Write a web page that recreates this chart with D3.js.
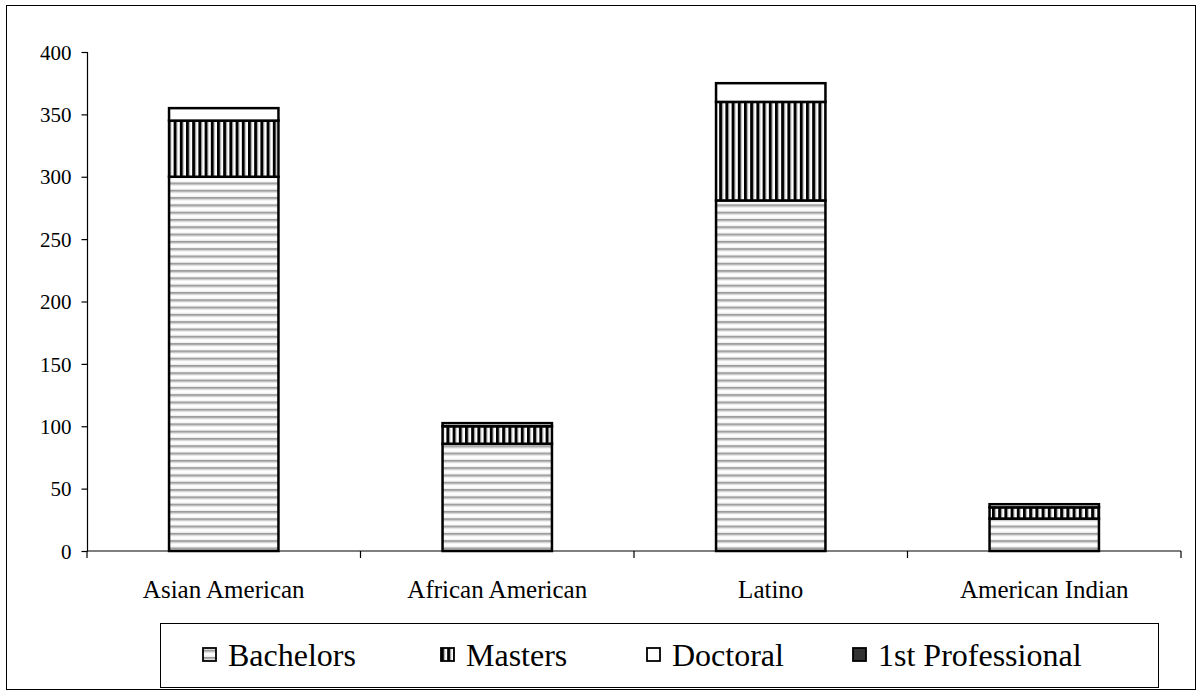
<!DOCTYPE html>
<html>
<head>
<meta charset="utf-8">
<script src="https://cdn.jsdelivr.net/npm/d3@7"></script>
</head>
<body style="margin:0;padding:0;background:#fff">
<svg id="chart" width="1202" height="696" style="display:block" font-family="Liberation Serif"></svg>
<script>
// ---- data ----
const categories = ["Asian American", "African American", "Latino", "American Indian"];
const seriesNames = ["Bachelors", "Masters", "Doctoral", "1st Professional"];
const bachelors = [300, 86, 281, 26];
const masters = [45, 14, 79, 9];
const doctoral = [10, 2.5, 15, 2.5];
const firstProfessional = [0, 0, 0, 0];
const yTicks = [0, 50, 100, 150, 200, 250, 300, 350, 400];

const FONT = "Liberation Serif";
const svg = d3.select("#chart");

// patterns
const defs = svg.append("defs");
const pB = defs.append("pattern").attr("id", "pBach").attr("patternUnits", "userSpaceOnUse")
  .attr("width", 8).attr("height", 7.3);
pB.append("rect").attr("width", 8).attr("height", 7.3).attr("fill", "#f0f0f0");
pB.append("rect").attr("y", 0).attr("width", 8).attr("height", 1.7).attr("fill", "#999999");
pB.append("rect").attr("y", 1.7).attr("width", 8).attr("height", 1).attr("fill", "#d2d2d2");
pB.append("rect").attr("y", 3.6).attr("width", 8).attr("height", 2.4).attr("fill", "#ffffff");

const pM = defs.append("pattern").attr("id", "pMast").attr("patternUnits", "userSpaceOnUse")
  .attr("width", 6.2).attr("height", 10);
pM.append("rect").attr("width", 6.2).attr("height", 10).attr("fill", "#ffffff");
pM.append("rect").attr("x", 0).attr("width", 3).attr("height", 10).attr("fill", "#000");
pM.append("rect").attr("x", 3).attr("width", 0.8).attr("height", 10).attr("fill", "#888");

const fills = ["url(#pBach)", "url(#pMast)", "#ffffff", "#333333"];

// outer border
svg.append("rect").attr("x", 6.5).attr("y", 5.5).attr("width", 1189).attr("height", 684)
  .attr("fill", "none").attr("stroke", "#000").attr("stroke-width", 1);

// scales
const x = d3.scaleBand().domain(categories).range([87, 1181])
  .paddingInner(0.6).paddingOuter(0.3);
const y = d3.scaleLinear().domain([0, 400]).range([551, 52]);

// y axis
const yAxis = svg.append("g").attr("transform", "translate(87.5,0)")
  .call(d3.axisLeft(y).tickValues(yTicks).tickSize(6).tickPadding(10));
yAxis.attr("font-family", FONT).attr("font-size", 21);
yAxis.select(".domain").attr("stroke", "#000").attr("stroke-width", 1.2).attr("d", "M0,52V551");
yAxis.selectAll(".tick line").attr("stroke", "#000").attr("stroke-width", 1.2);
yAxis.selectAll(".tick text").attr("font-family", FONT)
  .attr("font-size", 21).attr("fill", "#000").attr("dy", "0.34em");

// x axis
const step = x.step();
const boundaries = d3.range(categories.length + 1).map(i => 87 + i * step);
const xg = svg.append("g");
xg.append("line").attr("x1", 87).attr("x2", 1181).attr("y1", 551).attr("y2", 551)
  .attr("stroke", "#000").attr("stroke-width", 1.2);
xg.selectAll("line.tk").data(boundaries).join("line").attr("class", "tk")
  .attr("x1", d => d).attr("x2", d => d).attr("y1", 551).attr("y2", 558)
  .attr("stroke", "#000").attr("stroke-width", 1.2);
xg.selectAll("text").data(categories).join("text")
  .attr("x", d => x(d) + x.bandwidth() / 2).attr("y", 598)
  .attr("text-anchor", "middle").attr("font-family", FONT).attr("font-size", 25)
  .attr("fill", "#000").text(d => d);

// stacked bars
const rows = categories.map((c, i) => ({
  cat: c, Bachelors: bachelors[i], Masters: masters[i], Doctoral: doctoral[i], "1st Professional": firstProfessional[i]
}));
const stack = d3.stack().keys(seriesNames)(rows);
stack.forEach((layer, li) => {
  svg.append("g").selectAll("rect").data(layer.filter(d => d[1] - d[0] > 0)).join("rect")
    .attr("x", d => x(d.data.cat))
    .attr("width", x.bandwidth())
    .attr("y", d => y(d[1]))
    .attr("height", d => y(d[0]) - y(d[1]))
    .attr("fill", fills[li])
    .attr("stroke", "#000").attr("stroke-width", 2.5);
});

// legend
svg.append("rect").attr("x", 160.5).attr("y", 623.5).attr("width", 998).attr("height", 64)
  .attr("fill", "none").attr("stroke", "#000").attr("stroke-width", 1);
const legendX = [203, 441, 647, 853];
const lg = svg.append("g").selectAll("g").data(seriesNames).join("g")
  .attr("transform", (d, i) => `translate(${legendX[i]},0)`);
lg.append("rect").attr("x", 0).attr("y", 648).attr("width", 13).attr("height", 13)
  .attr("fill", (d, i) => fills[i]).attr("stroke", "#000").attr("stroke-width", 1.8);
lg.append("text").attr("x", 25).attr("y", 666).attr("font-family", FONT)
  .attr("font-size", 32).attr("fill", "#000").text(d => d);
</script>
</body>
</html>
